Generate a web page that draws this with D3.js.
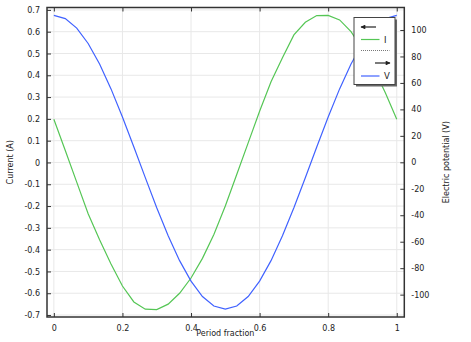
<!DOCTYPE html>
<html>
<head>
<meta charset="utf-8">
<script src="https://cdn.jsdelivr.net/npm/d3@7"></script>
<style>
  body { margin: 0; background: #fff; }
  text { font-family: "DejaVu Sans", sans-serif; fill: #222; }
</style>
</head>
<body>
<div id="chart"></div>
<script>
// period fraction samples (k/30)
var periodFraction = d3.range(31).map(k => k / 30);

// current I (A)
var current = [0.198, 0.055, -0.09, -0.235, -0.355, -0.466, -0.567, -0.64, -0.673, -0.675,
               -0.65, -0.6, -0.53, -0.44, -0.33, -0.2, -0.055, 0.09, 0.235, 0.37,
               0.48, 0.585, 0.643, 0.674, 0.675, 0.654, 0.6, 0.52, 0.43, 0.32, 0.198];

// electric potential V (V)
var potential = [111, 108.6, 101.4, 89.8, 74.3, 55.5, 34.3, 11.6, -11.6, -34.3,
                 -55.5, -74.3, -89.8, -101.4, -108.6, -111, -108.6, -101.4, -89.8, -74.3,
                 -55.5, -34.3, -11.6, 11.6, 34.3, 55.5, 74.3, 89.8, 101.4, 108.6, 111];

var xTicks = [0, 0.2, 0.4, 0.6, 0.8, 1];
var leftTicks = d3.range(-7, 8).map(d => d / 10);
var rightTicks = d3.range(-100, 101, 20);

var width = 471, height = 342;
var plot = { left: 47, right: 404.3, top: 7.5, bottom: 317 };

var x = d3.scaleLinear().domain([-0.02, 1.022]).range([plot.left, plot.right]);
var yL = d3.scaleLinear().domain([-0.709, 0.711]).range([plot.bottom, plot.top]);
var yR = d3.scaleLinear().domain([-116.9, 117.0]).range([plot.bottom, plot.top]);

var fmt = d => String(+d.toFixed(2)).replace("\u2212", "-");

var svg = d3.select("#chart").append("svg")
    .attr("width", width)
    .attr("height", height);

svg.append("clipPath").attr("id", "clip")
  .append("rect")
    .attr("x", plot.left).attr("y", plot.top)
    .attr("width", plot.right - plot.left).attr("height", plot.bottom - plot.top);

// grid
var grid = svg.append("g").attr("stroke", "#e8e8e8").attr("stroke-width", 1);
grid.selectAll(".gx").data(xTicks).enter().append("line")
    .attr("x1", d => x(d)).attr("x2", d => x(d))
    .attr("y1", plot.top).attr("y2", plot.bottom);
grid.selectAll(".gy").data(leftTicks).enter().append("line")
    .attr("x1", plot.left).attr("x2", plot.right)
    .attr("y1", d => yL(d)).attr("y2", d => yL(d));

// curves
var lineI = d3.line().x((d, i) => x(periodFraction[i])).y(d => yL(d));
var lineV = d3.line().x((d, i) => x(periodFraction[i])).y(d => yR(d));

var curves = svg.append("g").attr("clip-path", "url(#clip)");
curves.append("path").datum(current)
    .attr("d", lineI).attr("fill", "none")
    .attr("stroke", "#55c655").attr("stroke-width", 1.2);
curves.append("path").datum(potential)
    .attr("d", lineV).attr("fill", "none")
    .attr("stroke", "#4062ff").attr("stroke-width", 1.2);

// axes (ticks point inward)
var axisColor = "#333";
svg.append("g")
    .attr("transform", `translate(0,${plot.bottom})`)
    .call(d3.axisBottom(x).tickValues(xTicks).tickSize(-4).tickPadding(8).tickFormat(fmt))
    .call(g => g.select(".domain").remove());
svg.append("g")
    .attr("transform", `translate(0,${plot.top})`)
    .call(d3.axisTop(x).tickValues(xTicks).tickSize(-4).tickFormat(""))
    .call(g => g.select(".domain").remove());
svg.append("g")
    .attr("transform", `translate(${plot.left},0)`)
    .call(d3.axisLeft(yL).tickValues(leftTicks).tickSize(-4).tickPadding(7).tickFormat(fmt))
    .call(g => g.select(".domain").remove());
svg.append("g")
    .attr("transform", `translate(${plot.right},0)`)
    .call(d3.axisRight(yR).tickValues(rightTicks).tickSize(-4).tickPadding(7).tickFormat(fmt))
    .call(g => g.select(".domain").remove());

svg.selectAll(".tick line").attr("stroke", axisColor).attr("stroke-width", 1);
svg.selectAll(".tick text")
    .attr("font-family", "DejaVu Sans, sans-serif")
    .attr("font-size", 8)
    .attr("fill", "#222");

// frame
svg.append("rect")
    .attr("x", plot.left).attr("y", plot.top)
    .attr("width", plot.right - plot.left).attr("height", plot.bottom - plot.top)
    .attr("fill", "none").attr("stroke", axisColor).attr("stroke-width", 1.5);

// axis titles
svg.append("text")
    .attr("x", (x(0) + x(1)) / 2).attr("y", 336)
    .attr("text-anchor", "middle").attr("font-size", 8)
    .text("Period fraction");
svg.append("text")
    .attr("transform", `translate(13,${(plot.top + plot.bottom) / 2}) rotate(-90)`)
    .attr("text-anchor", "middle").attr("font-size", 8)
    .text("Current (A)");
svg.append("text")
    .attr("transform", `translate(449,${(plot.top + plot.bottom) / 2}) rotate(-90)`)
    .attr("text-anchor", "middle").attr("font-size", 8)
    .text("Electric potential (V)");

// legend
var lg = svg.append("g").attr("transform", "translate(354,17.5)");
lg.append("rect").attr("x", 2).attr("y", 2).attr("width", 41).attr("height", 67).attr("fill", "#666");
lg.append("rect").attr("x", 0).attr("y", 0).attr("width", 41).attr("height", 67)
    .attr("fill", "#fff").attr("stroke", "#444").attr("stroke-width", 1);

svg.append("defs").append("marker")
    .attr("id", "arrow").attr("viewBox", "0 0 10 10")
    .attr("refX", 9).attr("refY", 5)
    .attr("markerWidth", 5).attr("markerHeight", 4)
    .attr("orient", "auto-start-reverse")
  .append("path").attr("d", "M0,0L10,5L0,10z").attr("fill", "#222");

lg.append("line").attr("x1", 22).attr("x2", 7).attr("y1", 9.5).attr("y2", 9.5)
    .attr("stroke", "#222").attr("stroke-width", 1.2).attr("marker-end", "url(#arrow)");
lg.append("line").attr("x1", 7).attr("x2", 25.5).attr("y1", 22).attr("y2", 22)
    .attr("stroke", "#55c655").attr("stroke-width", 1.2);
lg.append("text").attr("x", 30).attr("y", 25).attr("font-size", 8.5).text("I");
lg.append("line").attr("x1", 7).attr("x2", 35.5).attr("y1", 33).attr("y2", 33)
    .attr("stroke", "#555").attr("stroke-width", 0.8).attr("stroke-dasharray", "1,1");
lg.append("line").attr("x1", 21).attr("x2", 36).attr("y1", 45.5).attr("y2", 45.5)
    .attr("stroke", "#222").attr("stroke-width", 1.2).attr("marker-end", "url(#arrow)");
lg.append("line").attr("x1", 7).attr("x2", 25.5).attr("y1", 58.5).attr("y2", 58.5)
    .attr("stroke", "#4062ff").attr("stroke-width", 1.2);
lg.append("text").attr("x", 30).attr("y", 61.5).attr("font-size", 8.5).text("V");
</script>
</body>
</html>
